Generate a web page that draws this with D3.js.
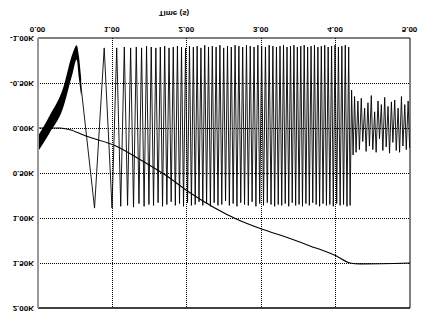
<!DOCTYPE html>
<html>
<head>
    <meta charset="utf-8">
    <style>
        body { margin: 0; background: #fff; }
        svg { display: block; }
        .tick text {
            font-family: 'Liberation Sans', Arial, sans-serif;
            font-size: 8px;
            font-weight: bold;
            fill: #000;
        }
        .axis-title {
            font-family: 'Liberation Sans', Arial, sans-serif;
            font-size: 8px;
            font-weight: bold;
        }
        .grid line {
            stroke: #000;
            stroke-width: 1;
            stroke-dasharray: 1, 1;
            shape-rendering: crispEdges;
        }
    </style>
</head>
<body>
<svg width="421" height="330"></svg>

<script src="https://cdn.jsdelivr.net/npm/d3@7"></script>
<script>
    // axis ticks
    let xTicks = [0, 1, 2, 3, 4, 5];
    let xTickLabels = ["0.00", "1.00", "2.00", "3.00", "4.00", "5.00"];
    let yTicks = [-1, -0.5, 0, 0.5, 1, 1.5, 2];
    let yTickLabels = ["-1.00K", "-0.50K", "0.00K", "0.50K", "1.00K", "1.50K", "2.00K"];

    // oscillating signal (K), turning points
    let waveTimes = [
        0, 0.152, 0.332, 0.466, 0.52, 0.55, 0.58, 0.76, 0.89,
        // sweep, first part
        0.995, 1.058, 1.112, 1.160, 1.204, 1.245, 1.284, 1.321, 1.357, 1.392, 1.426, 1.459, 1.491, 1.522,
        1.553, 1.584, 1.614, 1.644, 1.674, 1.703, 1.732, 1.761, 1.790, 1.818, 1.846, 1.874, 1.902, 1.929,
        1.956, 1.983, 2.010, 2.036, 2.062,
        // sweep, middle
        2.088, 2.113, 2.139, 2.164, 2.190, 2.215, 2.241, 2.266, 2.292, 2.317, 2.343, 2.368, 2.394, 2.419,
        2.445, 2.470, 2.496, 2.521, 2.547, 2.572, 2.598, 2.623, 2.649, 2.674, 2.700, 2.725, 2.751, 2.776,
        2.802, 2.827, 2.853, 2.878, 2.904, 2.929, 2.955, 2.980, 3.006, 3.031, 3.057, 3.082, 3.107, 3.132,
        3.157, 3.181, 3.205,
        // sweep, last part
        3.229, 3.253, 3.276, 3.300, 3.323, 3.347, 3.370, 3.394, 3.417, 3.440, 3.463, 3.486, 3.509, 3.532,
        3.555, 3.578, 3.601, 3.624, 3.647, 3.670, 3.693, 3.716, 3.739, 3.762, 3.785, 3.808, 3.831, 3.854,
        3.877, 3.900, 3.923, 3.946, 3.969, 3.992, 4.015, 4.038, 4.061, 4.084, 4.107, 4.130, 4.153, 4.176,
        4.195,
        // after the drop
        4.215, 4.235, 4.255, 4.275, 4.30, 4.32, 4.345, 4.365, 4.39, 4.41, 4.435, 4.455, 4.48, 4.50,
        4.525, 4.545, 4.57, 4.59, 4.615, 4.635, 4.66, 4.68, 4.705, 4.725, 4.75, 4.77, 4.795, 4.815,
        4.84, 4.86, 4.885, 4.905, 4.93, 4.95, 4.975, 4.995];
    let waveValues = [
        0.17, -0.03, -0.32, -0.72, -0.85, -0.68, -0.45, 0.89, -0.89,
        0.89, -0.89, 0.87, -0.90, 0.86, -0.89, 0.88, -0.90, 0.84, -0.89, 0.87, -0.91, 0.85, -0.90,
        0.86, -0.89, 0.83, -0.90, 0.87, -0.91, 0.85, -0.89, 0.82, -0.90, 0.86, -0.91, 0.84, -0.90,
        0.87, -0.89, 0.83, -0.91, 0.86,
        -0.90, 0.85, -0.91, 0.82, -0.89, 0.86, -0.92, 0.84, -0.90, 0.87, -0.91, 0.83, -0.90, 0.86,
        -0.92, 0.85, -0.89, 0.81, -0.91, 0.86, -0.90, 0.84, -0.92, 0.87, -0.91, 0.83, -0.90, 0.85,
        -0.92, 0.86, -0.91, 0.82, -0.90, 0.87, -0.92, 0.84, -0.91, 0.86, -0.90, 0.83, -0.92, 0.85,
        -0.91, 0.87, -0.90,
        0.85, -0.91, 0.86, -0.92, 0.84, -0.90, 0.87, -0.91, 0.83, -0.92, 0.86, -0.90, 0.85, -0.91,
        0.87, -0.92, 0.84, -0.90, 0.86, -0.91, 0.83, -0.92, 0.85, -0.90, 0.87, -0.91, 0.84, -0.92,
        0.86, -0.90, 0.85, -0.91, 0.87, -0.92, 0.84, -0.90, 0.86, -0.91, 0.85, -0.92, 0.87, -0.90,
        0.86,
        -0.42, 0.30, -0.35, 0.27, -0.30, 0.24, -0.33, 0.15, -0.22, 0.26, -0.28, 0.20, -0.36, 0.24,
        -0.18, 0.27, -0.30, 0.12, -0.26, 0.25, -0.34, 0.21, -0.24, 0.28, -0.29, 0.16, -0.31, 0.25,
        -0.22, 0.27, -0.35, 0.20, -0.26, 0.24, -0.30, 0.22];

    // thick band of the first swing (low / high edge, K)
    let bandTimes = [0, 0.152, 0.332, 0.466, 0.52, 0.55, 0.58];
    let bandLow = [0.09, -0.13, -0.43, -0.83, -0.92, -0.80, -0.55];
    let bandHigh = [0.26, 0.06, -0.21, -0.61, -0.76, -0.55, -0.35];

    // slow curve (K)
    let curveTimes = [0, 0.30, 0.43, 0.645, 1.048, 1.371, 1.707, 2.043, 2.688, 2.997, 3.253, 3.656, 4.005, 4.194, 4.328, 5.0];
    let curveValues = [0, 0, 0.02, 0.09, 0.20, 0.35, 0.52, 0.72, 1.02, 1.12, 1.19, 1.31, 1.42, 1.50, 1.51, 1.50];

    let svg = d3.select("svg");
    let width = 421;
    let height = 330;
    let margin = { top: 22, right: 11, bottom: 38, left: 38 };

    // the picture is drawn upside down, so the whole chart is mirrored
    let g = svg.append("g")
        .attr("transform", `translate(0,${height}) scale(1,-1)`);

    let x = d3.scaleLinear()
        .domain([0, 5])
        .range([margin.left, width - margin.right]);

    let y = d3.scaleLinear()
        .domain([-1, 2])
        .range([height - margin.bottom, margin.top]);

    // grid
    let grid = g.append("g").attr("class", "grid");
    grid.selectAll(".vx")
        .data(xTicks.slice(1, -1))
        .join("line")
        .attr("x1", d => x(d)).attr("x2", d => x(d))
        .attr("y1", y(-1)).attr("y2", y(2));
    grid.selectAll(".hy")
        .data(yTicks.slice(1, -1))
        .join("line")
        .attr("x1", x(0)).attr("x2", x(5))
        .attr("y1", d => y(d)).attr("y2", d => y(d));

    // first swing band
    let band = d3.area()
        .x((d, i) => x(bandTimes[i]))
        .y0((d, i) => y(bandLow[i]))
        .y1((d, i) => y(bandHigh[i]))
        .curve(d3.curveMonotoneX);

    g.append("path")
        .datum(bandTimes)
        .attr("fill", "#000")
        .attr("d", band);

    let wave = d3.line()
        .x((d, i) => x(waveTimes[i]))
        .y((d, i) => y(waveValues[i]));

    g.append("path")
        .datum(waveTimes)
        .attr("fill", "none")
        .attr("stroke", "#000")
        .attr("stroke-width", 0.9)
        .attr("d", wave);

    let curve = d3.line()
        .x((d, i) => x(curveTimes[i]))
        .y((d, i) => y(curveValues[i]))
        .curve(d3.curveMonotoneX);

    g.append("path")
        .datum(curveTimes)
        .attr("fill", "none")
        .attr("stroke", "#000")
        .attr("stroke-width", 1.1)
        .attr("d", curve);

    // frame
    g.append("line")
        .attr("x1", x(0)).attr("x2", x(5))
        .attr("y1", y(-1)).attr("y2", y(-1))
        .attr("stroke", "#000").attr("stroke-width", 1.2);
    g.append("line")
        .attr("x1", x(0)).attr("x2", x(5))
        .attr("y1", y(2)).attr("y2", y(2))
        .attr("stroke", "#000").attr("stroke-width", 1.5);
    g.append("line")
        .attr("x1", x(5)).attr("x2", x(5))
        .attr("y1", y(-1)).attr("y2", y(2))
        .attr("stroke", "#000").attr("stroke-width", 1);
    g.append("line")
        .attr("x1", x(0)).attr("x2", x(0))
        .attr("y1", y(-1)).attr("y2", y(2))
        .attr("stroke", "#999").attr("stroke-width", 2);

    // axes
    let xAxis = d3.axisBottom(x)
        .tickValues(xTicks)
        .tickSize(0)
        .tickPadding(5)
        .tickFormat((d, i) => xTickLabels[i]);

    g.append("g")
        .attr("class", "x axis")
        .attr("transform", `translate(-1,${y(-1)})`)
        .call(xAxis)
        .call(a => a.select(".domain").remove());

    let yAxis = d3.axisLeft(y)
        .tickValues(yTicks)
        .tickSize(0)
        .tickPadding(4)
        .tickFormat((d, i) => yTickLabels[i]);

    g.append("g")
        .attr("class", "y axis")
        .attr("transform", `translate(${x(0)},0)`)
        .call(yAxis)
        .call(a => a.select(".domain").remove())
        .selectAll("text")
        .attr("dy", "0.15em");

    g.append("text")
        .attr("class", "axis-title")
        .attr("x", 174)
        .attr("y", 319)
        .attr("text-anchor", "middle")
        .text("Time (s)");
</script>
</body>
</html>
